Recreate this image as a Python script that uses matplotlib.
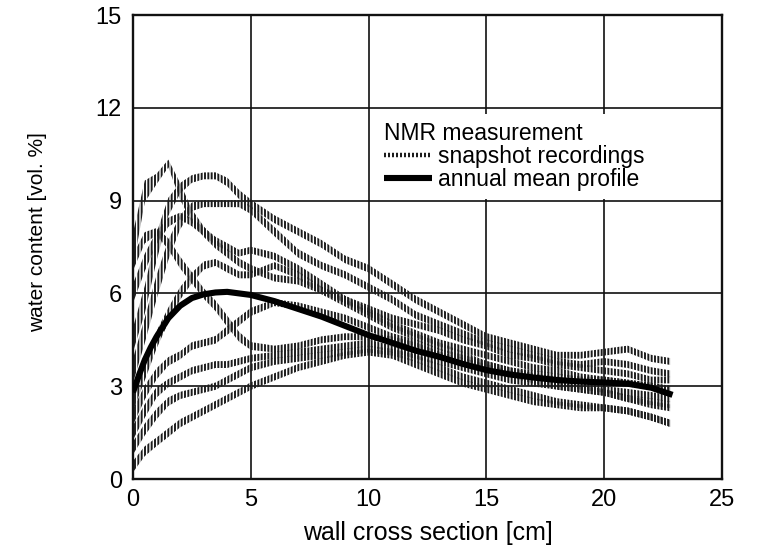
import numpy as np
import matplotlib
matplotlib.use("Agg")
import matplotlib.pyplot as plt
from matplotlib.lines import Line2D

plt.rcParams['font.family'] = ['Liberation Sans', 'DejaVu Sans']
plt.rcParams['hatch.linewidth'] = 1.4

# ---- data ----
x_cm = [0, 0.5, 1, 1.5, 2, 2.5, 3, 3.5, 4, 4.5, 5, 6, 7, 8, 9, 10, 11, 12,
        13, 14, 15, 16, 17, 18, 19, 20, 21, 22, 22.8]

snap1 = [7.4, 9.3, 9.7, 10.2, 9.3, 8.5, 8.0, 7.6, 7.3, 7.0, 6.8, 6.5, 6.4, 6.1, 5.8, 5.5, 5.2, 5.0,
         4.8, 4.5, 4.3, 4.0, 3.9, 3.7, 3.6, 3.5, 3.4, 3.2, 3.2]
snap2 = [4.5, 5.8, 7.5, 8.8, 9.4, 9.7, 9.8, 9.8, 9.6, 9.2, 8.9, 8.4, 8.0, 7.6, 7.1, 6.8, 6.3, 5.8,
         5.4, 5.0, 4.6, 4.4, 4.2, 4.0, 4.0, 4.1, 4.2, 3.9, 3.8]
snap3 = [3.5, 4.8, 6.2, 7.4, 8.3, 8.8, 8.9, 8.9, 8.9, 8.9, 8.7, 8.0, 7.3, 6.9, 6.6, 6.2, 5.8, 5.3,
         5.0, 4.7, 4.4, 4.2, 4.0, 3.8, 3.7, 3.8, 3.7, 3.5, 3.4]
snap4 = [6.0, 7.0, 7.8, 8.3, 8.5, 8.3, 8.0, 7.7, 7.5, 7.3, 7.4, 7.2, 6.8, 6.3, 5.8, 5.4, 5.0, 4.7,
         4.4, 4.2, 4.0, 3.8, 3.6, 3.5, 3.3, 3.2, 3.1, 3.0, 2.9]
snap5 = [2.5, 3.5, 4.5, 5.3, 6.0, 6.5, 6.9, 7.0, 6.8, 6.6, 6.6, 6.9, 6.6, 6.1, 5.7, 5.3, 4.9, 4.6,
         4.3, 4.0, 3.7, 3.5, 3.3, 3.2, 3.0, 2.9, 2.8, 2.7, 2.6]
snap6 = [7.0, 7.8, 8.0, 7.6, 7.0, 6.5, 6.0, 5.6, 5.1, 4.6, 4.3, 4.2, 4.3, 4.5, 4.6, 4.6, 4.5, 4.3,
         4.0, 3.8, 3.6, 3.4, 3.2, 3.0, 2.9, 2.8, 2.6, 2.4, 2.3]
snap7 = [2.0, 2.8, 3.4, 3.8, 4.0, 4.3, 4.4, 4.5, 4.8, 5.1, 5.4, 5.7, 5.6, 5.4, 5.2, 4.9, 4.6, 4.4,
         4.1, 3.9, 3.7, 3.5, 3.4, 3.3, 3.2, 3.2, 3.1, 3.0, 2.9]
snap8 = [1.5, 2.2, 2.8, 3.1, 3.3, 3.5, 3.6, 3.7, 3.7, 3.8, 3.9, 4.0, 4.1, 4.2, 4.3, 4.4, 4.2, 4.0,
         3.8, 3.6, 3.4, 3.2, 3.1, 3.0, 2.9, 2.8, 2.6, 2.5, 2.4]
snap9 = [1.0, 1.6, 2.1, 2.5, 2.7, 2.8, 2.9, 3.0, 3.2, 3.4, 3.6, 3.8, 3.9, 4.0, 4.1, 4.2, 4.1, 3.9,
         3.6, 3.3, 3.1, 2.9, 2.7, 2.5, 2.4, 2.3, 2.2, 2.0, 1.8]
snap10 = [0.4, 0.9, 1.2, 1.5, 1.8, 2.0, 2.2, 2.4, 2.6, 2.8, 3.0, 3.3, 3.6, 3.8, 4.0, 4.1, 4.0, 3.7,
          3.4, 3.1, 2.9, 2.7, 2.5, 2.4, 2.3, 2.3, 2.2, 2.0, 1.8]
snapshots = [snap1, snap2, snap3, snap4, snap5, snap6, snap7, snap8, snap9, snap10]

mean_x = [0, 0.25, 0.5, 0.75, 1, 1.5, 2, 2.5, 3, 3.5, 4, 5, 6, 7, 8, 9, 10, 11, 12, 13,
          14, 15, 16, 17, 18, 19, 20, 21, 22, 22.9]
mean_y = [2.8, 3.35, 3.85, 4.25, 4.6, 5.2, 5.6, 5.85, 5.97, 6.03, 6.05, 5.95, 5.75, 5.5, 5.25,
          4.95, 4.65, 4.4, 4.15, 3.95, 3.72, 3.52, 3.38, 3.28, 3.2, 3.15, 3.12, 3.08, 2.95, 2.72]

x_ticks = [0, 5, 10, 15, 20, 25]
y_ticks = [0, 3, 6, 9, 12, 15]

# ---- figure ----
W, H = 758, 551
fig = plt.figure(figsize=(W / 100, H / 100), dpi=100)
ax = fig.add_axes([133 / W, 1 - 479 / H, (722 - 133) / W, (479 - 15) / H])
ax.set_xlim(0, 25)
ax.set_ylim(0, 15)
ax.set_xticks(x_ticks)
ax.set_yticks(y_ticks)
ax.tick_params(length=0, labelsize=17)
ax.tick_params(axis='y', pad=8)
ax.tick_params(axis='x', pad=7)
ax.grid(True, color='#111111', linewidth=1.2)
ax.set_axisbelow(True)
for s in ax.spines.values():
    s.set_linewidth(1.7)
    s.set_color('#111111')

# px per data unit for band thickness
bb = ax.get_position()
px_x = bb.width * W / 25.0
px_y = bb.height * H / 15.0
half_w_px = 3.4
xa = np.asarray(x_cm, float)
for ys in snapshots:
    ya = np.asarray(ys, float)
    slope_px = np.gradient(ya, xa) * px_y / px_x
    h = half_w_px / px_y * np.sqrt(1 + slope_px ** 2)
    ax.fill_between(xa, ya - h, ya + h, facecolor='none', edgecolor='#1c1c1c',
                    linewidth=0, hatch='|||||', zorder=2)

ax.plot(mean_x, mean_y, color='black', linewidth=4.4, solid_capstyle='butt',
        solid_joinstyle='round', zorder=4)

ax.set_xlabel('wall cross section [cm]', fontsize=18)
ax.xaxis.set_label_coords(0.5, -(521 - 479) / 464)
ax.set_ylabel('water content [vol. %]', fontsize=15)
ax.yaxis.set_label_coords((47 - 133) / 589, (479 - 232) / 464)

handles = [
    Line2D([], [], color='#1c1c1c', linewidth=3.2, dashes=(0.45, 0.45), dash_capstyle='butt'),
    Line2D([], [], color='black', linewidth=4.4, solid_capstyle='butt'),
]
leg = ax.legend(handles, ['snapshot recordings', 'annual mean profile'],
                title='NMR measurement', title_fontsize=16.5, fontsize=16.5,
                loc='upper left', bbox_to_anchor=((376 - 133) / 589, (479 - 114) / 464),
                frameon=True, fancybox=False, edgecolor='none', facecolor='white',
                framealpha=1, handlelength=2.1, handletextpad=0.25, labelspacing=0.0,
                borderpad=0.35, borderaxespad=0, alignment='left')
leg.set_zorder(5)

fig.savefig('out.png', dpi=100)
